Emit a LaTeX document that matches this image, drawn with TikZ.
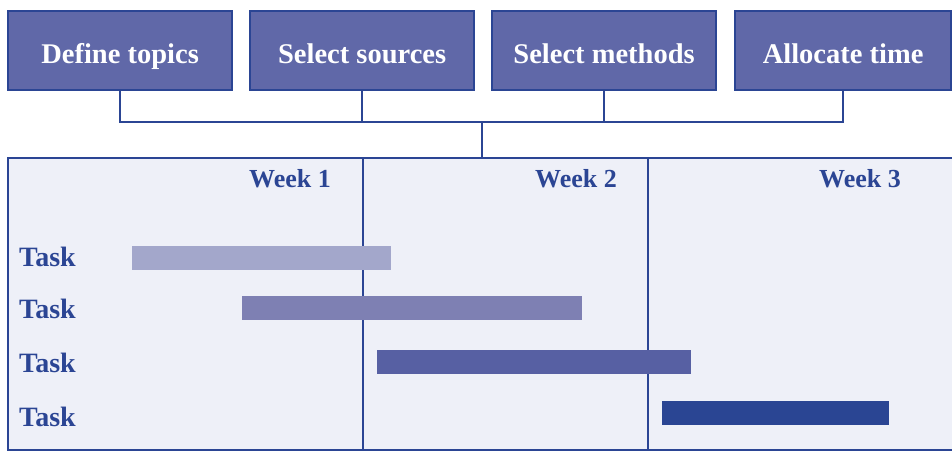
\documentclass[tikz,border=0pt]{standalone}
\usepackage{fontspec}
\setmainfont{Liberation Serif}
\definecolor{navy}{RGB}{43,69,148}
\definecolor{boxfill}{RGB}{96,104,168}
\definecolor{chartbg}{RGB}{238,240,248}
\definecolor{barA}{RGB}{163,167,203}
\definecolor{barB}{RGB}{126,128,179}
\definecolor{barC}{RGB}{87,96,163}
\definecolor{barD}{RGB}{42,69,147}
\tikzset{
  topbox/.style={draw=navy, line width=2.2pt, fill=boxfill, text=white,
    font=\bfseries\fontsize{28.5}{32}\selectfont, minimum height=79pt,
    text height=25pt, text depth=0pt,
    inner sep=0pt, anchor=north west},
  weeklabel/.style={text=navy, font=\bfseries\fontsize{26}{30}\selectfont,
    anchor=base east, inner sep=0pt},
  tasklabel/.style={text=navy, font=\bfseries\fontsize{28}{30}\selectfont,
    anchor=base west, inner sep=0pt},
  conn/.style={draw=navy, line width=2.2pt},
}
\begin{document}
\begin{tikzpicture}[x=1pt,y=-1pt]
\useasboundingbox (0,0) rectangle (952,451);
\clip (0,0) rectangle (952,451);
\fill[white] (0,0) rectangle (952,451);
% chart background
\node[draw=navy, line width=2.2pt, fill=chartbg, minimum width=960pt,
  minimum height=292pt, inner sep=0pt, anchor=north west] (chart) at (7,157) {};
% week dividers
\coordinate (d1) at (363,157);
\coordinate (d2) at (648,157);
\draw[conn] (d1) -- (d1 |- chart.south);
\draw[conn] (d2) -- (d2 |- chart.south);
% top boxes
\node[topbox, minimum width=224pt] (b1) at (7,10) {Define topics};
\node[topbox, minimum width=224pt] (b2) at (249,10) {Select sources};
\node[topbox, minimum width=224pt] (b3) at (491,10) {Select methods};
\node[topbox, minimum width=216pt] (b4) at (734,10) {Allocate time};
% connectors
\coordinate (j) at (482,122);
\draw[conn] (b1.south) |- (b4.south |- j) -- (b4.south);
\draw[conn] (b2.south) -- (b2.south |- j);
\draw[conn] (b3.south) -- (b3.south |- j);
\draw[conn] (j) -- (j |- chart.north);
% week labels
\node[weeklabel] (w1) at (331,187) {Week 1};
\node[weeklabel] (w2) at (617,187) {Week 2};
\node[weeklabel] (w3) at (901,187) {Week 3};
% task labels
\node[tasklabel] (t1) at (19,266) {Task};
\node[tasklabel] (t2) at (19,318) {Task};
\node[tasklabel] (t3) at (19,372) {Task};
\node[tasklabel] (t4) at (19,426) {Task};
% bars
\fill[barA] (132,246) rectangle (391,270);
\fill[barB] (242,296) rectangle (582,320);
\fill[barC] (377,350) rectangle (691,374);
\fill[barD] (662,401) rectangle (889,425);
\end{tikzpicture}
\end{document}
